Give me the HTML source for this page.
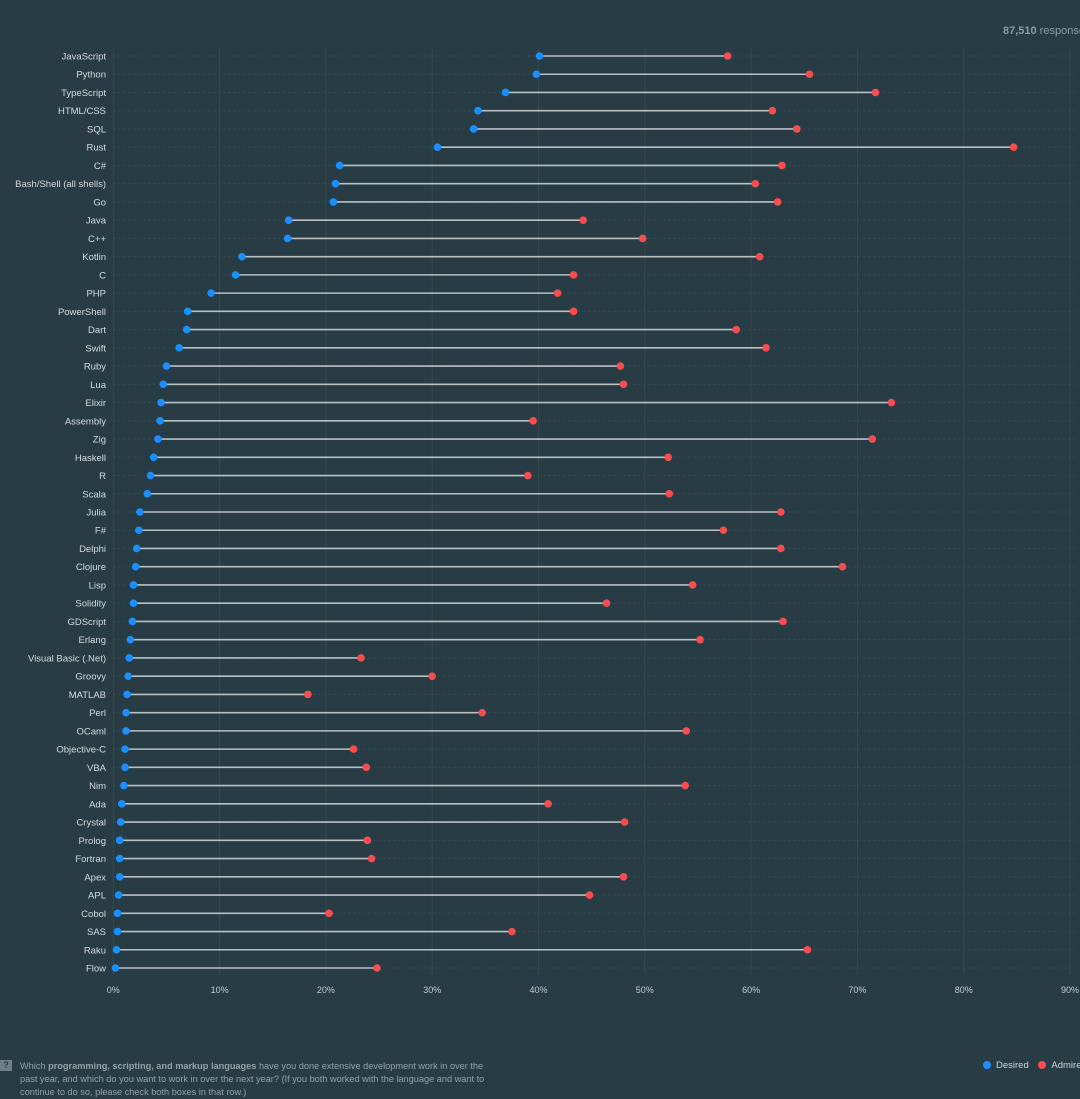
<!DOCTYPE html>
<html><head><meta charset="utf-8"><style>
html,body{margin:0;padding:0;background:#273c44;width:1080px;height:1091px;overflow:hidden;font-family:"Liberation Sans",sans-serif;}
svg{position:absolute;left:0;top:0}
</style></head><body>
<svg id="chart" width="1080" height="1091" viewBox="0 0 1080 1091"></svg>
<script>
const categories=["JavaScript","Python","TypeScript","HTML/CSS","SQL","Rust","C#","Bash/Shell (all shells)","Go","Java","C++","Kotlin","C","PHP","PowerShell","Dart","Swift","Ruby","Lua","Elixir","Assembly","Zig","Haskell","R","Scala","Julia","F#","Delphi","Clojure","Lisp","Solidity","GDScript","Erlang","Visual Basic (.Net)","Groovy","MATLAB","Perl","OCaml","Objective-C","VBA","Nim","Ada","Crystal","Prolog","Fortran","Apex","APL","Cobol","SAS","Raku","Flow"];
const desired=[40.1,39.8,36.9,34.3,33.9,30.5,21.3,20.9,20.7,16.5,16.4,12.1,11.5,9.2,7.0,6.9,6.2,5.0,4.7,4.5,4.4,4.2,3.8,3.5,3.2,2.5,2.4,2.2,2.1,1.9,1.9,1.8,1.6,1.5,1.4,1.3,1.2,1.2,1.1,1.1,1.0,0.8,0.7,0.6,0.6,0.6,0.5,0.4,0.4,0.3,0.2];
const admired=[57.8,65.5,71.7,62.0,64.3,84.7,62.9,60.4,62.5,44.2,49.8,60.8,43.3,41.8,43.3,58.6,61.4,47.7,48.0,73.2,39.5,71.4,52.2,39.0,52.3,62.8,57.4,62.8,68.6,54.5,46.4,63.0,55.2,23.3,30.0,18.3,34.7,53.9,22.6,23.8,53.8,40.9,48.1,23.9,24.3,48.0,44.8,20.3,37.5,65.3,24.8];
const ticks=[0,10,20,30,40,50,60,70,80,90];
const NS="http://www.w3.org/2000/svg";
const svg=document.getElementById('chart');
const x0=113.3,pxPer=10.63,y0=56,step=18.24;
const xs=v=>x0+v*pxPer;
const ys=i=>y0+i*step;
function mk(t,a){const e=document.createElementNS(NS,t);for(const k in a)e.setAttribute(k,a[k]);svg.appendChild(e);return e;}
ticks.forEach(t=>{
  const l=mk('line',{x1:xs(t),x2:xs(t),y1:47,y2:975,stroke:'#34494f','stroke-width':1});
  
  
  const tx=mk('text',{x:xs(t),y:993,'text-anchor':'middle','font-size':9,fill:'#c4ccd0'});
  tx.textContent=t+'%';
  
  
});
categories.forEach((c,i)=>{
  const y=ys(i);
  const g=mk('line',{x1:x0,x2:1075,y1:y,y2:y,stroke:'#344a52','stroke-width':1,'stroke-dasharray':'2,3'});
  
  
  const lab=mk('text',{x:106,y:y+3.5,'text-anchor':'end','font-size':9.5,fill:'#d6dcdf'});
  lab.textContent=c;
  
  
  const ln=mk('line',{x1:xs(desired[i]),x2:xs(admired[i]),y1:y,y2:y,stroke:'#b9c1c5','stroke-width':1.6});
  
  
  const d=mk('circle',{cx:xs(desired[i]),cy:y,r:3.8,fill:'#1a8fff'});
  
  
  const a=mk('circle',{cx:xs(admired[i]),cy:y,r:3.8,fill:'#f74d50'});
  
  
});
</script>
<div style="position:absolute;left:1003px;top:25px;font-size:11px;color:#8c9ca2;white-space:nowrap"><b>87,510</b> responses</div>
<div style="position:absolute;left:0;top:1060px;width:12px;height:11px;background:#6f8087;color:#273c44;font-size:9px;font-weight:bold;text-align:center;line-height:11px">?</div>
<div style="position:absolute;left:20px;top:1060px;width:480px;font-size:9.2px;line-height:13px;color:#94a3a8">Which <b>programming, scripting, and markup languages</b> have you done extensive development work in over the past year, and which do you want to work in over the next year? (If you both worked with the language and want to continue to do so, please check both boxes in that row.)</div>
<div style="position:absolute;left:983px;top:1060px;font-size:9.5px;color:#d0d7da;white-space:nowrap;line-height:12px">
<span><span style="display:inline-block;width:8px;height:8px;border-radius:50%;background:#1a8fff;vertical-align:-1px;margin-right:5px"></span>Desired</span>
<span style="margin-left:7px"><span style="display:inline-block;width:8px;height:8px;border-radius:50%;background:#f74d50;vertical-align:-1px;margin-right:5px"></span>Admired</span>
</div>
</body></html>
